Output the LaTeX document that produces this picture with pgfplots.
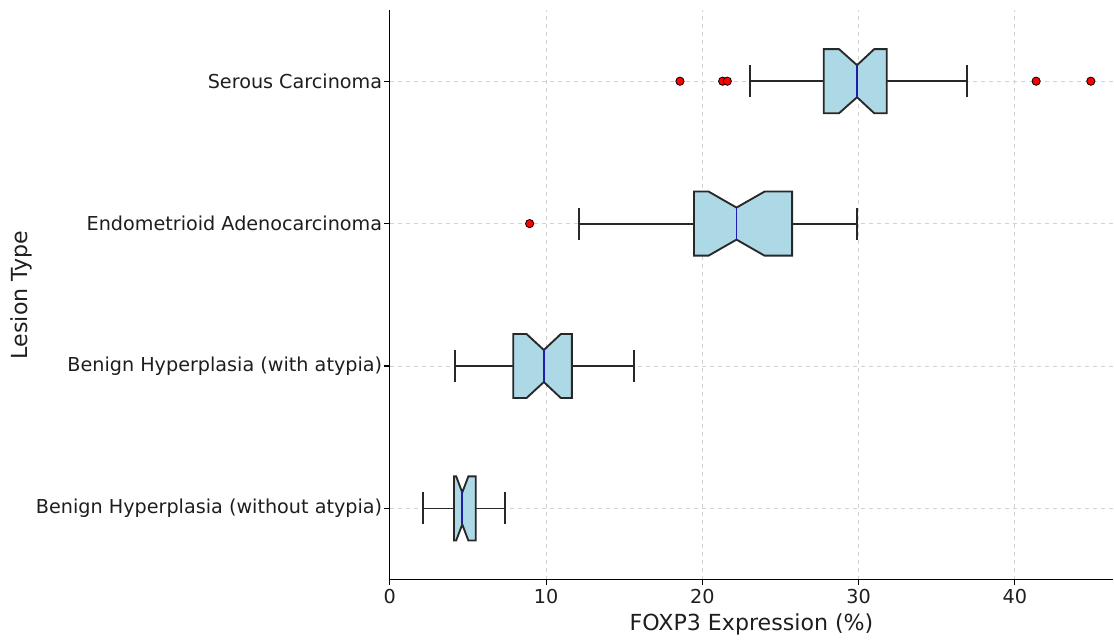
\documentclass[border=0pt]{standalone}
\usepackage{pgfplots}
\pgfplotsset{compat=1.18}
\usepackage{fontspec}
\setmainfont{DejaVu Sans}
\definecolor{boxfill}{RGB}{173,216,230}
\definecolor{edge}{RGB}{40,40,40}
\definecolor{medblue}{RGB}{30,30,170}
\definecolor{txt}{RGB}{30,30,30}
\begin{document}
\begin{tikzpicture}
\begin{axis}[
  scale only axis,
  width=543pt, height=427.5pt,
  xmin=0, xmax=46.3, ymin=-0.5, ymax=3.5,
  axis x line*=bottom, axis y line*=left,
  axis line style={-, line width=1pt, black},
  xtick={0,10,20,30,40},
  ytick={0,1,2,3},
  yticklabels={Benign Hyperplasia (without atypia),Benign Hyperplasia (with atypia),Endometrioid Adenocarcinoma,Serous Carcinoma},
  grid=major,
  grid style={dashed, gray!35, line width=0.6pt},
  tick align=outside,
  major tick length=4pt,
  tick style={black, line width=0.8pt},
  ticklabel style={font=\fontsize{14.4}{16}\selectfont, text=txt},
  yticklabel style={xshift=1.8pt},
  label style={font=\fontsize{16.6}{18}\selectfont, text=txt},
  ylabel style={yshift=-4pt},
  xlabel={FOXP3 Expression (\%)},
  ylabel={Lesion Type},
  /pgf/number format/assume math mode=true,
]
% serous carcinoma (y=3)
\addplot[edge, line width=1.4pt] coordinates {(23.05,3) (27.77,3)};
\addplot[edge, line width=1.4pt] coordinates {(31.8,3) (36.93,3)};
\addplot[edge, line width=1.4pt] coordinates {(23.05,2.8875) (23.05,3.1125)};
\addplot[edge, line width=1.4pt] coordinates {(36.93,2.8875) (36.93,3.1125)};
\addplot[fill=boxfill, draw=edge, line width=1.4pt] coordinates {
  (27.77,2.775) (28.75,2.775) (29.9,2.8875) (31.0,2.775) (31.8,2.775)
  (31.8,3.225) (31.0,3.225) (29.9,3.1125) (28.75,3.225) (27.77,3.225)} -- cycle;
\addplot[medblue, line width=1.4pt] coordinates {(29.9,2.8875) (29.9,3.1125)};

% endometrioid adenocarcinoma (y=2)
\addplot[edge, line width=1.4pt] coordinates {(12.1,2) (19.47,2)};
\addplot[edge, line width=1.4pt] coordinates {(25.75,2) (29.9,2)};
\addplot[edge, line width=1.4pt] coordinates {(12.1,1.8875) (12.1,2.1125)};
\addplot[edge, line width=1.4pt] coordinates {(29.9,1.8875) (29.9,2.1125)};
\addplot[fill=boxfill, draw=edge, line width=1.4pt] coordinates {
  (19.47,1.775) (20.4,1.775) (22.19,1.8875) (23.98,1.775) (25.75,1.775)
  (25.75,2.225) (23.98,2.225) (22.19,2.1125) (20.4,2.225) (19.47,2.225)} -- cycle;
\addplot[medblue, line width=1.4pt] coordinates {(22.19,1.8875) (22.19,2.1125)};

% benign hyperplasia with atypia (y=1)
\addplot[edge, line width=1.4pt] coordinates {(4.18,1) (7.9,1)};
\addplot[edge, line width=1.4pt] coordinates {(11.65,1) (15.63,1)};
\addplot[edge, line width=1.4pt] coordinates {(4.18,0.8875) (4.18,1.1125)};
\addplot[edge, line width=1.4pt] coordinates {(15.63,0.8875) (15.63,1.1125)};
\addplot[fill=boxfill, draw=edge, line width=1.4pt] coordinates {
  (7.9,0.775) (8.75,0.775) (9.86,0.8875) (10.95,0.775) (11.65,0.775)
  (11.65,1.225) (10.95,1.225) (9.86,1.1125) (8.75,1.225) (7.9,1.225)} -- cycle;
\addplot[medblue, line width=1.4pt] coordinates {(9.86,0.8875) (9.86,1.1125)};

% benign hyperplasia without atypia (y=0)
\addplot[edge, line width=1.4pt] coordinates {(2.13,0) (4.11,0)};
\addplot[edge, line width=1.4pt] coordinates {(5.5,0) (7.39,0)};
\addplot[edge, line width=1.4pt] coordinates {(2.13,-0.1125) (2.13,0.1125)};
\addplot[edge, line width=1.4pt] coordinates {(7.39,-0.1125) (7.39,0.1125)};
\addplot[fill=boxfill, draw=edge, line width=1.4pt] coordinates {
  (4.11,-0.225) (4.25,-0.225) (4.64,-0.1125) (5.03,-0.225) (5.5,-0.225)
  (5.5,0.225) (5.03,0.225) (4.64,0.1125) (4.25,0.225) (4.11,0.225)} -- cycle;
\addplot[medblue, line width=1.4pt] coordinates {(4.64,-0.1125) (4.64,0.1125)};

% outliers
\addplot[only marks, mark=*, mark size=3.1pt, mark options={fill=red, draw=black, line width=0.6pt}]
  coordinates {(18.57,3) (21.3,3) (21.6,3) (41.36,3) (44.86,3) (8.95,2)};
\end{axis}
\path (current axis.north west) ++(0,7.5pt);
\path ([xshift=-292.5pt]current axis.south west);
\end{tikzpicture}
\end{document}
